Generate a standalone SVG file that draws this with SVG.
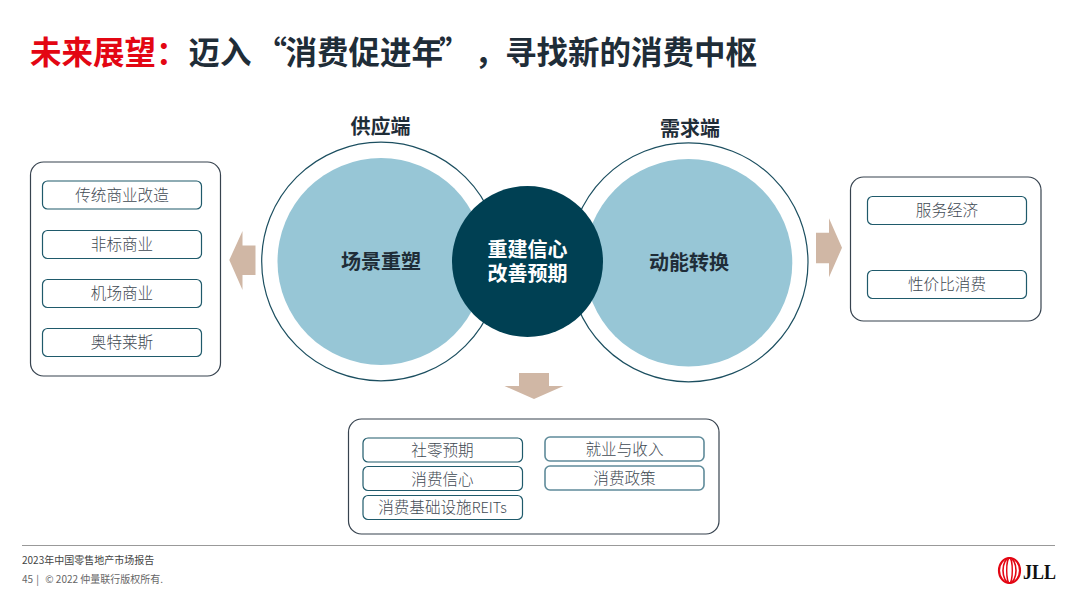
<svg xmlns="http://www.w3.org/2000/svg" width="1080" height="607" viewBox="0 0 1080 607">
<style>
text{font-family:"Noto Sans CJK SC","Noto Sans",sans-serif;text-anchor:middle}
.box{fill:#fff;stroke:#37434f;stroke-width:1.2}
.pill{fill:#fff;stroke:#1f5a6b;stroke-width:1.2}
.pill2{fill:#fff;stroke:#5f8b9a;stroke-width:1.6}
.pt{font-size:15.6px;fill:#3f4a53;font-weight:300}
.ring{fill:#fff;stroke:#1c4f60;stroke-width:1.2}
.disc{fill:#97c6d6}
.arrow{fill:#d0b7a5}
.h{font-size:20px;font-weight:700;fill:#1f2d38}
.c{font-size:20px;font-weight:700;fill:#1f2d38}
.w{font-size:20px;font-weight:700;fill:#fff}
.ti{font-size:31.500px;font-weight:700;text-anchor:start}
.f{font-size:10px;text-anchor:start}
</style>
<rect width="1080" height="607" fill="#fff"/>
<g id="title"><text class="ti" x="30" y="64" fill="#e30613">未来展望：<tspan fill="#1f2d38" x="188.500">迈入<tspan dx="4">“</tspan><tspan dx="-1.500">消费促进年</tspan><tspan dx="-4">”</tspan><tspan x="474.500">，</tspan><tspan x="505">寻找新的消费中枢</tspan></tspan></text></g>
<g id="node-left-list">
<rect class="box" x="30.500" y="162" width="190" height="214" rx="13"/>
<rect class="pill" x="42.500" y="181" width="159" height="28" rx="5"/><text class="pt" x="122" y="200.500">传统商业改造</text>
<rect class="pill" x="42.500" y="230.500" width="159" height="28" rx="5"/><text class="pt" x="122" y="250">非标商业</text>
<rect class="pill" x="42.500" y="279.500" width="159" height="28" rx="5"/><text class="pt" x="122" y="299">机场商业</text>
<rect class="pill" x="42.500" y="328.500" width="159" height="28" rx="5"/><text class="pt" x="122" y="348">奥特莱斯</text>
</g>
<g id="node-right-list">
<rect class="box" x="850.500" y="177" width="190.500" height="144" rx="13"/>
<rect class="pill" x="867.500" y="196.500" width="159" height="28" rx="5"/><text class="pt" x="947" y="216">服务经济</text>
<rect class="pill" x="867.500" y="270.500" width="159" height="28" rx="5"/><text class="pt" x="947" y="290">性价比消费</text>
</g>
<g id="node-bottom-list">
<rect class="box" x="348.500" y="419" width="370.500" height="115" rx="13"/>
<rect class="pill" x="363" y="438" width="159.500" height="24" rx="5"/><text class="pt" x="442.500" y="455.500">社零预期</text>
<rect class="pill" x="363" y="466.500" width="159.500" height="24" rx="5"/><text class="pt" x="442.500" y="484.500">消费信心</text>
<rect class="pill" x="363" y="495.500" width="159.500" height="24" rx="5"/><text class="pt" x="442.500" y="513">消费基础设施<tspan font-size="14.500">REITs</tspan></text>
<rect class="pill2" x="545" y="437" width="159" height="24" rx="5"/><text class="pt" x="624.500" y="454.500">就业与收入</text>
<rect class="pill2" x="545" y="466" width="159" height="24" rx="5"/><text class="pt" x="624.500" y="483.500">消费政策</text>
</g>
<g id="connectors">
<polygon class="arrow" points="255.500,245.500 242.500,245.500 242.500,231 229.300,260 242.500,290 242.500,275 255.500,275"/>
<polygon class="arrow" points="816,232.700 829,232.700 829,218.300 842,247.700 829,277.300 829,263.300 816,263.300"/>
<polygon class="arrow" points="519,373 549,373 549,386 563.500,386 534,399 504.500,386 519,386"/>
</g>
<g id="node-supply">
<circle class="ring" cx="381" cy="261.500" r="119.300"/><circle class="disc" cx="381" cy="261.500" r="103.500"/>
<text class="h" x="380.500" y="134">供应端</text><text class="c" x="381" y="269">场景重塑</text>
</g>
<g id="node-demand">
<circle class="ring" cx="688.500" cy="262.300" r="119.500"/><circle class="disc" cx="688.500" cy="262.800" r="103.800"/>
<text class="h" x="690" y="136">需求端</text><text class="c" x="689" y="270">动能转换</text>
</g>
<g id="node-center">
<circle cx="527.500" cy="261.500" r="75.500" fill="#004053"/>
<text class="w"><tspan x="527.500" y="257">重建信心</tspan><tspan x="527.500" y="281">改善预期</tspan></text>
</g>
<g id="footer">
<line x1="22" y1="545.500" x2="1055" y2="545.500" stroke="#999" stroke-width="1"/>
<text class="f" x="22" y="564" fill="#444">2023年中国零售地产市场报告</text>
<text class="f" x="22" y="583" fill="#666">45 <tspan dx="1">|</tspan><tspan dx="4"> © 2022 仲量联行版权所有.</tspan></text>
</g>
<g id="logo" fill="none" stroke="#e30613">
<ellipse cx="1009.500" cy="570.500" rx="10.500" ry="12.500" stroke-width="2.200"/><ellipse cx="1009.500" cy="570.500" rx="6.500" ry="12.500" stroke-width="1.600"/><ellipse cx="1009.500" cy="570.500" rx="2.800" ry="12.500" stroke-width="1.400"/>
<text x="1039.500" y="579" stroke="none" fill="#111" style="font-family:'Liberation Serif',serif;font-size:21px;font-weight:700" textLength="33" lengthAdjust="spacingAndGlyphs">JLL</text>
</g>
</svg>
